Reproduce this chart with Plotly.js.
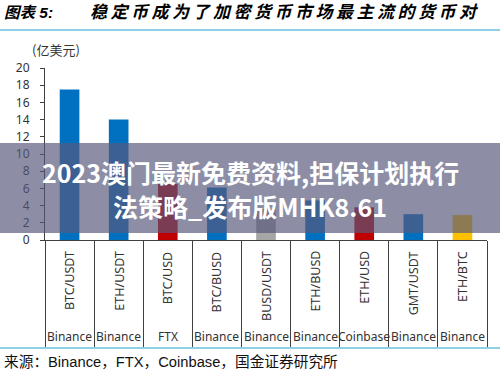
<!DOCTYPE html>
<html>
<head>
<meta charset="utf-8">
<script src="https://cdn.plot.ly/plotly-3.0.1.min.js"></script>
<style>
html,body{margin:0;padding:0;background:#fff;}
#chart{width:500px;height:376px;}
.gtitle{letter-spacing:3.5px;}
</style>
</head>
<body>
<div id="chart"></div>
<script>
const categories = ['BTC/USDT','ETH/USDT','BTC/USD','BTC/BUSD','BUSD/USDT','ETH/BUSD','ETH/USD','GMT/USDT','ETH/BTC'];
const exchanges = ['Binance','Binance','FTX','Binance','Binance','Binance','Coinbase','Binance','Binance'];
const volumes = [17.5, 14.0, 6.5, 6.1, 3.6, 4.6, 3.8, 3.0, 2.9];
const yTicks = [0,2,4,6,8,10,12,14,16,18,20];
const unitLabel = '(亿美元)';
const titlePrefix = '图表 5:';
const titleText = '稳定币成为了加密货币市场最主流的货币对';
const sourceText = '来源：Binance，FTX，Coinbase，国金证券研究所';
const overlayLine1 = '2023澳门最新免费资料,担保计划执行';
const overlayLine2 = '法策略_发布版MHK8.61';

const barColors = ['#0070C0','#0070C0','#C00000','#0070C0','#A6A6A6','#0070C0','#C00000','#0070C0','#FFC000'];

const W = 500, H = 376;
const L = 45, R = 13, T = 68, B = 136;
const pw = W - L - R, ph = H - T - B;
const px = x => (x - L) / pw;
const py = y => (H - B - y) / ph;

const fontLat = 'Noto Sans, Liberation Sans, Noto Sans CJK SC, sans-serif';
const fontMix = 'Liberation Sans, Noto Sans CJK SC, sans-serif';

const trace = {
  type: 'bar',
  x: categories,
  y: volumes,
  width: 0.4,
  marker: {color: barColors, line: {width: 0}},
  hoverinfo: 'x+y'
};

const annotations = [];
categories.forEach((c, i) => {
  annotations.push({
    x: c, xref: 'x', y: py(249), yref: 'paper',
    text: c, showarrow: false, textangle: -90,
    xanchor: 'center', yanchor: 'top',
    font: {family: fontLat, size: 12.5, color: '#333'}
  });
  annotations.push({
    x: c, xref: 'x', y: py(336), yref: 'paper',
    text: exchanges[i], showarrow: false,
    xanchor: 'center', yanchor: 'middle',
    font: {family: fontLat, size: 12, color: '#333'}
  });
});
annotations.push({
  x: px(56), xref: 'paper', y: py(49), yref: 'paper',
  text: unitLabel, showarrow: false, xanchor: 'center', yanchor: 'middle',
  font: {family: 'Noto Sans CJK SC, sans-serif', size: 13, color: '#333'}
});
annotations.push({
  x: px(2), xref: 'paper', y: py(12), yref: 'paper',
  text: titlePrefix, showarrow: false, xanchor: 'left', yanchor: 'middle',
  font: {family: fontMix, size: 15.5, color: '#000', weight: 'bold', style: 'italic'}
});
annotations.push({
  x: px(2), xref: 'paper', y: py(362), yref: 'paper',
  text: sourceText, showarrow: false, xanchor: 'left', yanchor: 'middle',
  font: {family: fontMix, size: 14.7, color: '#111'}
});
annotations.push({
  x: px(250), xref: 'paper', y: py(172), yref: 'paper',
  text: overlayLine1, showarrow: false, xanchor: 'center', yanchor: 'middle',
  font: {family: 'Noto Sans CJK SC, sans-serif', size: 25, color: '#fff', weight: 'bold'}
});
annotations.push({
  x: px(250), xref: 'paper', y: py(206), yref: 'paper',
  text: overlayLine2, showarrow: false, xanchor: 'center', yanchor: 'middle',
  font: {family: 'Noto Sans CJK SC, sans-serif', size: 25, color: '#fff', weight: 'bold'}
});

const shapes = [
  {type: 'line', xref: 'paper', yref: 'paper', x0: px(0), x1: px(500), y0: py(30), y1: py(30),
   line: {color: '#8CCFE6', width: 2}},
  {type: 'line', xref: 'paper', yref: 'paper', x0: px(0), x1: px(500), y0: py(348), y1: py(348),
   line: {color: '#8CCFE6', width: 2}},
  {type: 'rect', xref: 'paper', yref: 'paper', x0: px(0), x1: px(500), y0: py(233), y1: py(143),
   fillcolor: 'rgba(87,89,122,0.68)', line: {width: 0}, layer: 'above'}
];

const layout = {
  width: W, height: H,
  margin: {l: L, r: R, t: T, b: B, pad: 0},
  paper_bgcolor: '#fff', plot_bgcolor: '#fff',
  showlegend: false,
  title: {
    text: titleText, xref: 'container', yref: 'container',
    x: 90 / W, xanchor: 'left', y: 1 - 12 / H, yanchor: 'middle',
    font: {family: fontMix, size: 17, color: '#000', weight: 'bold', style: 'italic'}
  },
  xaxis: {
    type: 'category', range: [-0.5, categories.length - 0.5],
    showticklabels: false, ticks: 'outside', tickson: 'boundaries',
    ticklen: 106, tickwidth: 1, tickcolor: '#404040',
    showline: true, linecolor: '#404040', linewidth: 1,
    showgrid: false, zeroline: false, fixedrange: true
  },
  yaxis: {
    range: [0, 20], tickvals: yTicks, ticks: 'outside', ticklen: 4,
    tickcolor: '#404040', tickwidth: 1, ticklabelstandoff: 8,
    showline: true, linecolor: '#404040', linewidth: 1,
    showgrid: false, zeroline: false, fixedrange: true,
    tickfont: {family: fontLat, size: 12, color: '#333'}
  },
  bargap: 0.6,
  annotations: annotations,
  shapes: shapes
};

Plotly.newPlot('chart', [trace], layout, {displayModeBar: false, staticPlot: true});
</script>
</body>
</html>
